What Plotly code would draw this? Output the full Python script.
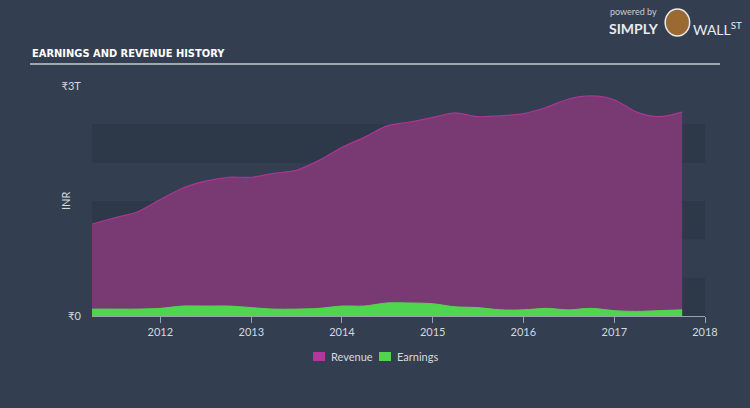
import plotly.graph_objects as go

BG = "#333f50"
BAND = "#2d3949"
TEXT = "#d5d9de"
REV_FILL = "#793a74"
REV_LINE = "#a9368f"
REV_KEY = "#b0379c"
EARN = "#50d64e"

# quarterly points, values in INR
dates = [
    "2011-04-01", "2011-07-01", "2011-10-01",
    "2012-01-01", "2012-04-01", "2012-07-01", "2012-10-01",
    "2013-01-01", "2013-04-01", "2013-07-01", "2013-10-01",
    "2014-01-01", "2014-04-01", "2014-07-01", "2014-10-01",
    "2015-01-01", "2015-04-01", "2015-07-01", "2015-10-01",
    "2016-01-01", "2016-04-01", "2016-07-01", "2016-10-01",
    "2017-01-01", "2017-04-01", "2017-07-01", "2017-10-01",
]
revenue_t = [
    1.20, 1.28, 1.36,
    1.52, 1.67, 1.76, 1.81,
    1.81, 1.86, 1.90, 2.03,
    2.20, 2.33, 2.48, 2.53,
    2.59, 2.65, 2.60, 2.61,
    2.64, 2.72, 2.83, 2.87,
    2.82, 2.66, 2.60, 2.66,
]
earnings_t = [
    0.09, 0.09, 0.09,
    0.10, 0.13, 0.13, 0.13,
    0.11, 0.09, 0.09, 0.10,
    0.13, 0.13, 0.17, 0.17,
    0.16, 0.12, 0.11, 0.08,
    0.08, 0.10, 0.08, 0.10,
    0.07, 0.06, 0.07, 0.08,
]
revenue = [v * 1e12 for v in revenue_t]
earnings = [v * 1e12 for v in earnings_t]

fig = go.Figure()
fig.add_trace(go.Scatter(
    x=dates, y=revenue, name="Revenue", mode="lines",
    line=dict(color=REV_LINE, width=1.2, shape="spline", smoothing=0.8),
    fill="tozeroy", fillcolor=REV_FILL,
))
fig.add_trace(go.Scatter(
    x=dates, y=earnings, name="Earnings", mode="lines",
    line=dict(color=EARN, width=1, shape="spline", smoothing=0.8),
    fill="tozeroy", fillcolor=EARN,
))

# alternating horizontal bands behind the plot
for lo, hi in [(0, 0.5e12), (1.0e12, 1.5e12), (2.0e12, 2.5e12)]:
    fig.add_shape(type="rect", xref="paper", yref="y", x0=0, x1=1, y0=lo, y1=hi,
                  fillcolor=BAND, line_width=0, layer="below")

# title + underline
fig.add_shape(type="line", xref="paper", yref="paper", x0=-0.1011, x1=1.0245,
              y0=1.096, y1=1.096, line=dict(color="#c8ccd2", width=1.5))
fig.add_annotation(text="EARNINGS AND REVENUE HISTORY", xref="paper", yref="paper",
                   x=-0.1011, y=1.143, xanchor="left", yanchor="middle", showarrow=False,
                   font=dict(family="DejaVu Sans Condensed, DejaVu Sans", size=11,
                             color="#ffffff", weight=700))

# y axis label
fig.add_annotation(text="INR", xref="paper", yref="paper", x=-0.044, y=0.5,
                   textangle=-90, showarrow=False, xanchor="center", yanchor="middle",
                   font=dict(size=11, color=TEXT))

# legend drawn by hand (small square keys)
for key, col, x0 in [("Revenue", REV_KEY, 0.3605), ("Earnings", EARN, 0.4682)]:
    fig.add_shape(type="rect", xref="paper", yref="paper", x0=x0, x1=x0 + 0.0196,
                  y0=-0.1957, y1=-0.1565, fillcolor=col, line_width=0)
    fig.add_annotation(text=key, xref="paper", yref="paper", x=x0 + 0.026, y=-0.178,
                       xanchor="left", yanchor="middle", showarrow=False,
                       font=dict(size=11, color=TEXT))

# logo
fig.add_annotation(text="powered by", xref="paper", yref="paper", x=0.841, y=1.322,
                   xanchor="left", yanchor="middle", showarrow=False,
                   font=dict(family="Lato", size=9, color="#c8ccd2"))
fig.add_annotation(text="<b>SIMPLY</b>", xref="paper", yref="paper", x=0.84, y=1.252,
                   xanchor="left", yanchor="middle", showarrow=False,
                   font=dict(family="Lato", size=14, color="#e8eaee"))
fig.add_annotation(text="WALL<sup>ST</sup>", xref="paper", yref="paper", x=0.977, y=1.252,
                   xanchor="left", yanchor="middle", showarrow=False,
                   font=dict(family="Lato", size=14, color="#e8eaee"))
fig.add_shape(type="circle", xref="paper", yref="paper", x0=0.935, x1=0.975,
              y0=1.217, y1=1.335, fillcolor="#9a6a32", line=dict(color="#e8eaee", width=1.5))

fig.update_layout(
    width=750, height=408,
    paper_bgcolor=BG, plot_bgcolor=BG,
    margin=dict(l=92, r=45, t=86, b=92),
    font=dict(family="Lato", color=TEXT, size=11),
    showlegend=False,
    xaxis=dict(
        type="date", range=["2011-04-01", "2018-01-01"],
        tickvals=["2012-01-01", "2013-01-01", "2014-01-01", "2015-01-01",
                  "2016-01-01", "2017-01-01", "2018-01-01"],
        ticktext=["2012", "2013", "2014", "2015", "2016", "2017", "2018"],
        showgrid=False, zeroline=False, showline=True, linecolor="#9aa3ad", linewidth=1,
        ticks="outside", ticklen=6, tickcolor="#9aa3ad", tickfont=dict(size=11, color=TEXT),
    ),
    yaxis=dict(
        range=[0, 3e12], tickvals=[0, 3e12], ticktext=["₹0", "₹3T"],
        showgrid=False, zeroline=False, showline=False,
        ticks="outside", ticklen=8, tickcolor="rgba(0,0,0,0)",
        tickfont=dict(size=11, color=TEXT),
    ),
)

fig.write_html("out.html", config={"displayModeBar": False},
               post_script="document.body.style.margin='0';document.body.style.background='#333f50';")
